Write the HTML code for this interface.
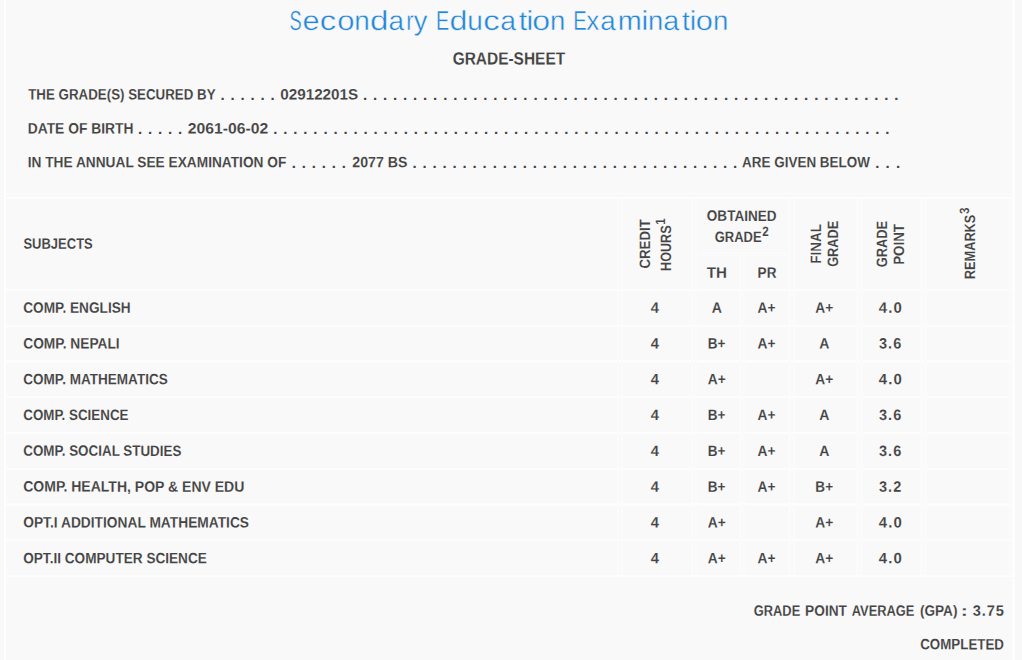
<!DOCTYPE html><html><head><meta charset="utf-8"><title>Grade Sheet</title><style>
html,body{margin:0;padding:0;}
body{width:1022px;height:660px;overflow:hidden;background:#f9f9f9;font-family:"Liberation Sans",sans-serif;color:#444;position:relative;}
.t{position:absolute;white-space:nowrap;transform-origin:0 0;}
.sup{font-size:0.9em;position:relative;top:-6.3px;margin-left:0.9px;}
.ln{position:absolute;background:#fff;}
.d{position:absolute;white-space:nowrap;font-weight:bold;}
</style></head><body>
<div class="ln" style="left:0.00px;top:0.00px;width:4.00px;height:660.00px;background:#f8f8f8"></div>
<div class="ln" style="left:1.30px;top:0.00px;width:1.00px;height:660.00px;background:#fbfbfb"></div>
<div class="ln" style="left:4.00px;top:0.00px;width:2.00px;height:660.00px;background:#fefefe"></div>
<div class="ln" style="left:1012.00px;top:0.00px;width:3.20px;height:660.00px;background:#fdfdfd"></div>
<div class="ln" style="left:1015.20px;top:0.00px;width:6.80px;height:660.00px;background:#f8f8f8"></div>
<div class="ln" style="left:6.00px;top:192.70px;width:1006.00px;height:1.60px;background:#fcfcfc"></div>
<div class="ln" style="left:6.00px;top:197.00px;width:1006.00px;height:2.00px;background:#fdfdfd"></div>
<div class="ln" style="left:6.00px;top:289.00px;width:1006.00px;height:2.20px;background:#fdfdfd"></div>
<div class="ln" style="left:6.00px;top:324.73px;width:1006.00px;height:2.20px;background:#fdfdfd"></div>
<div class="ln" style="left:6.00px;top:360.46px;width:1006.00px;height:2.20px;background:#fdfdfd"></div>
<div class="ln" style="left:6.00px;top:396.19px;width:1006.00px;height:2.20px;background:#fdfdfd"></div>
<div class="ln" style="left:6.00px;top:431.92px;width:1006.00px;height:2.20px;background:#fdfdfd"></div>
<div class="ln" style="left:6.00px;top:467.65px;width:1006.00px;height:2.20px;background:#fdfdfd"></div>
<div class="ln" style="left:6.00px;top:503.38px;width:1006.00px;height:2.20px;background:#fdfdfd"></div>
<div class="ln" style="left:6.00px;top:539.11px;width:1006.00px;height:2.20px;background:#fdfdfd"></div>
<div class="ln" style="left:6.00px;top:574.84px;width:1006.00px;height:2.20px;background:#fdfdfd"></div>
<div class="ln" style="left:6.00px;top:580.00px;width:1006.00px;height:1.20px;background:#fbfbfb"></div>
<div class="ln" style="left:616.60px;top:199.00px;width:2.40px;height:376.00px;background:#fbfbfb"></div>
<div class="ln" style="left:621.00px;top:199.00px;width:2.40px;height:376.00px;background:#fbfbfb"></div>
<div class="ln" style="left:690.50px;top:199.00px;width:2.40px;height:376.00px;background:#fbfbfb"></div>
<div class="ln" style="left:695.00px;top:199.00px;width:2.40px;height:376.00px;background:#fbfbfb"></div>
<div class="ln" style="left:788.20px;top:199.00px;width:2.40px;height:376.00px;background:#fbfbfb"></div>
<div class="ln" style="left:792.60px;top:199.00px;width:2.40px;height:376.00px;background:#fbfbfb"></div>
<div class="ln" style="left:856.20px;top:199.00px;width:2.40px;height:376.00px;background:#fbfbfb"></div>
<div class="ln" style="left:860.20px;top:199.00px;width:2.40px;height:376.00px;background:#fbfbfb"></div>
<div class="ln" style="left:920.20px;top:199.00px;width:2.40px;height:376.00px;background:#fbfbfb"></div>
<div class="ln" style="left:924.20px;top:199.00px;width:2.40px;height:376.00px;background:#fbfbfb"></div>
<div class="ln" style="left:739.40px;top:255.00px;width:2.20px;height:320.00px;background:#fbfbfb"></div>
<div class="ln" style="left:743.00px;top:255.00px;width:2.20px;height:320.00px;background:#fbfbfb"></div>
<div class="ln" style="left:697.40px;top:251.80px;width:90.80px;height:1.80px;background:#fbfbfb"></div>
<div class="ln" style="left:697.40px;top:254.60px;width:90.80px;height:1.80px;background:#fbfbfb"></div>
<div class="ln" style="left:1008.50px;top:199.00px;width:2.00px;height:376.00px;background:#fbfbfb"></div>

<div class="t" style="left:0;top:0;font-size:27.5px;line-height:33px;font-weight:normal;color:#2287d9;-webkit-text-stroke:0.4px #f9f9f9;transform:translate(289.42px,3.94px) scaleX(0.6613) rotate(0.03deg);">S</div>
<div class="t" style="left:0;top:0;font-size:27.5px;line-height:33px;font-weight:normal;color:#2287d9;-webkit-text-stroke:0.4px #f9f9f9;transform:translate(302.56px,3.94px) scaleX(1.1144) rotate(0.03deg);">e</div>
<div class="t" style="left:0;top:0;font-size:27.5px;line-height:33px;font-weight:normal;color:#2287d9;-webkit-text-stroke:0.4px #f9f9f9;transform:translate(319.65px,3.94px) scaleX(1.1920) rotate(0.03deg);">c</div>
<div class="t" style="left:0;top:0;font-size:27.5px;line-height:33px;font-weight:normal;color:#2287d9;-webkit-text-stroke:0.4px #f9f9f9;transform:translate(337.15px,3.94px) scaleX(1.1258) rotate(0.03deg);">o</div>
<div class="t" style="left:0;top:0;font-size:27.5px;line-height:33px;font-weight:normal;color:#2287d9;-webkit-text-stroke:0.4px #f9f9f9;transform:translate(354.30px,3.94px) scaleX(1.0105) rotate(0.03deg);">n</div>
<div class="t" style="left:0;top:0;font-size:27.5px;line-height:33px;font-weight:normal;color:#2287d9;-webkit-text-stroke:0.4px #f9f9f9;transform:translate(369.93px,3.94px) scaleX(1.2064) rotate(0.03deg);">d</div>
<div class="t" style="left:0;top:0;font-size:27.5px;line-height:33px;font-weight:normal;color:#2287d9;-webkit-text-stroke:0.4px #f9f9f9;transform:translate(388.58px,3.94px) scaleX(1.0164) rotate(0.03deg);">a</div>
<div class="t" style="left:0;top:0;font-size:27.5px;line-height:33px;font-weight:normal;color:#2287d9;-webkit-text-stroke:0.4px #f9f9f9;transform:translate(406.20px,3.95px) scaleX(0.8031) rotate(0.03deg);">r</div>
<div class="t" style="left:0;top:0;font-size:27.5px;line-height:33px;font-weight:normal;color:#2287d9;-webkit-text-stroke:0.4px #f9f9f9;transform:translate(413.75px,3.94px) scaleX(0.9895) rotate(0.03deg);">y</div>
<div class="t" style="left:0;top:0;font-size:27.5px;line-height:33px;font-weight:normal;color:#2287d9;-webkit-text-stroke:0.4px #f9f9f9;transform:translate(436.09px,3.94px) scaleX(0.7186) rotate(0.03deg);">E</div>
<div class="t" style="left:0;top:0;font-size:27.5px;line-height:33px;font-weight:normal;color:#2287d9;-webkit-text-stroke:0.4px #f9f9f9;transform:translate(449.48px,3.94px) scaleX(1.1731) rotate(0.03deg);">d</div>
<div class="t" style="left:0;top:0;font-size:27.5px;line-height:33px;font-weight:normal;color:#2287d9;-webkit-text-stroke:0.4px #f9f9f9;transform:translate(467.34px,3.94px) scaleX(1.0169) rotate(0.03deg);">u</div>
<div class="t" style="left:0;top:0;font-size:27.5px;line-height:33px;font-weight:normal;color:#2287d9;-webkit-text-stroke:0.4px #f9f9f9;transform:translate(483.15px,3.94px) scaleX(1.1920) rotate(0.03deg);">c</div>
<div class="t" style="left:0;top:0;font-size:27.5px;line-height:33px;font-weight:normal;color:#2287d9;-webkit-text-stroke:0.4px #f9f9f9;transform:translate(500.36px,3.94px) scaleX(1.0308) rotate(0.03deg);">a</div>
<div class="t" style="left:0;top:0;font-size:27.5px;line-height:33px;font-weight:normal;color:#2287d9;-webkit-text-stroke:0.4px #f9f9f9;transform:translate(518.78px,3.95px) scaleX(1.1017) rotate(0.03deg);">t</div>
<div class="t" style="left:0;top:0;font-size:27.5px;line-height:33px;font-weight:normal;color:#2287d9;-webkit-text-stroke:0.4px #f9f9f9;transform:translate(526.47px,3.95px) scaleX(1.1025) rotate(0.03deg);">i</div>
<div class="t" style="left:0;top:0;font-size:27.5px;line-height:33px;font-weight:normal;color:#2287d9;-webkit-text-stroke:0.4px #f9f9f9;transform:translate(532.29px,3.94px) scaleX(1.1649) rotate(0.03deg);">o</div>
<div class="t" style="left:0;top:0;font-size:27.5px;line-height:33px;font-weight:normal;color:#2287d9;-webkit-text-stroke:0.4px #f9f9f9;transform:translate(550.12px,3.94px) scaleX(1.0020) rotate(0.03deg);">n</div>
<div class="t" style="left:0;top:0;font-size:27.5px;line-height:33px;font-weight:normal;color:#2287d9;-webkit-text-stroke:0.4px #f9f9f9;transform:translate(573.36px,3.94px) scaleX(0.7322) rotate(0.03deg);">E</div>
<div class="t" style="left:0;top:0;font-size:27.5px;line-height:33px;font-weight:normal;color:#2287d9;-webkit-text-stroke:0.4px #f9f9f9;transform:translate(586.37px,3.94px) scaleX(0.9482) rotate(0.03deg);">x</div>
<div class="t" style="left:0;top:0;font-size:27.5px;line-height:33px;font-weight:normal;color:#2287d9;-webkit-text-stroke:0.4px #f9f9f9;transform:translate(600.19px,3.94px) scaleX(1.0092) rotate(0.03deg);">a</div>
<div class="t" style="left:0;top:0;font-size:27.5px;line-height:33px;font-weight:normal;color:#2287d9;-webkit-text-stroke:0.4px #f9f9f9;transform:translate(617.73px,3.94px) scaleX(1.0482) rotate(0.03deg);">m</div>
<div class="t" style="left:0;top:0;font-size:27.5px;line-height:33px;font-weight:normal;color:#2287d9;-webkit-text-stroke:0.4px #f9f9f9;transform:translate(641.47px,3.95px) scaleX(1.1025) rotate(0.03deg);">i</div>
<div class="t" style="left:0;top:0;font-size:27.5px;line-height:33px;font-weight:normal;color:#2287d9;-webkit-text-stroke:0.4px #f9f9f9;transform:translate(647.93px,3.94px) scaleX(0.9934) rotate(0.03deg);">n</div>
<div class="t" style="left:0;top:0;font-size:27.5px;line-height:33px;font-weight:normal;color:#2287d9;-webkit-text-stroke:0.4px #f9f9f9;transform:translate(663.14px,3.94px) scaleX(1.0452) rotate(0.03deg);">a</div>
<div class="t" style="left:0;top:0;font-size:27.5px;line-height:33px;font-weight:normal;color:#2287d9;-webkit-text-stroke:0.4px #f9f9f9;transform:translate(682.03px,3.95px) scaleX(1.0136) rotate(0.03deg);">t</div>
<div class="t" style="left:0;top:0;font-size:27.5px;line-height:33px;font-weight:normal;color:#2287d9;-webkit-text-stroke:0.4px #f9f9f9;transform:translate(689.74px,3.95px) scaleX(1.0632) rotate(0.03deg);">i</div>
<div class="t" style="left:0;top:0;font-size:27.5px;line-height:33px;font-weight:normal;color:#2287d9;-webkit-text-stroke:0.4px #f9f9f9;transform:translate(695.76px,3.94px) scaleX(1.1180) rotate(0.03deg);">o</div>
<div class="t" style="left:0;top:0;font-size:27.5px;line-height:33px;font-weight:normal;color:#2287d9;-webkit-text-stroke:0.4px #f9f9f9;transform:translate(712.92px,3.94px) scaleX(1.0020) rotate(0.03deg);">n</div>
<div class="t" style="left:0;top:0;font-size:17.6px;line-height:21px;font-weight:bold;color:#444;-webkit-text-stroke:0.1px #f9f9f9;transform:translate(452.66px,48.53px) scaleX(0.8785) rotate(0.03deg);">GRADE-SHEET</div>
<div class="t" style="left:0;top:0;font-size:15.0px;line-height:18px;font-weight:bold;color:#444;-webkit-text-stroke:0.1px #f9f9f9;transform:translate(28.23px,85.49px) scaleX(0.8883) rotate(0.03deg);">THE GRADE(S) SECURED BY</div>
<div class="t" style="left:0;top:0;font-size:15.0px;line-height:18px;font-weight:bold;color:#444;-webkit-text-stroke:0.1px #f9f9f9;transform:translate(280.18px,85.56px) scaleX(1.0177) rotate(0.03deg);">02912201S</div>
<div class="t" style="left:0;top:0;font-size:15.0px;line-height:18px;font-weight:bold;color:#444;-webkit-text-stroke:0.1px #f9f9f9;transform:translate(27.69px,119.44px) scaleX(0.9226) rotate(0.03deg);">DATE OF BIRTH</div>
<div class="t" style="left:0;top:0;font-size:15.0px;line-height:18px;font-weight:bold;color:#444;-webkit-text-stroke:0.1px #f9f9f9;transform:translate(187.67px,119.46px) scaleX(1.0492) rotate(0.03deg);">2061-06-02</div>
<div class="t" style="left:0;top:0;font-size:15.0px;line-height:18px;font-weight:bold;color:#444;-webkit-text-stroke:0.1px #f9f9f9;transform:translate(27.70px,153.15px) scaleX(0.9136) rotate(0.03deg);">IN THE ANNUAL SEE EXAMINATION OF</div>
<div class="t" style="left:0;top:0;font-size:15.0px;line-height:18px;font-weight:bold;color:#444;-webkit-text-stroke:0.1px #f9f9f9;transform:translate(352.32px,153.27px) scaleX(0.9438) rotate(0.03deg);">2077 BS</div>
<div class="t" style="left:0;top:0;font-size:15.0px;line-height:18px;font-weight:bold;color:#444;-webkit-text-stroke:0.1px #f9f9f9;transform:translate(742.09px,153.23px) scaleX(0.8972) rotate(0.03deg);">ARE GIVEN BELOW</div>
<div class="t" style="left:0;top:0;font-size:15.0px;line-height:18px;font-weight:bold;color:#444;-webkit-text-stroke:0.1px #f9f9f9;transform:translate(23.42px,234.66px) scaleX(0.8665) rotate(0.03deg);">SUBJECTS</div>
<div class="t" style="left:0;top:0;font-size:15.0px;line-height:18px;font-weight:bold;color:#444;-webkit-text-stroke:0.1px #f9f9f9;transform:translate(23.23px,298.64px) scaleX(0.9097) rotate(0.03deg);">COMP. ENGLISH</div>
<div class="t" style="left:0;top:0;font-size:15.0px;line-height:18px;font-weight:bold;color:#444;-webkit-text-stroke:0.1px #f9f9f9;transform:translate(650.66px,298.70px) scaleX(0.9804) rotate(0.03deg);">4</div>
<div class="t" style="left:0;top:0;font-size:15.0px;line-height:18px;font-weight:bold;color:#444;-webkit-text-stroke:0.1px #f9f9f9;transform:translate(711.67px,298.69px) scaleX(0.9365) rotate(0.03deg);">A</div>
<div class="t" style="left:0;top:0;font-size:15.0px;line-height:18px;font-weight:bold;color:#444;-webkit-text-stroke:0.1px #f9f9f9;transform:translate(757.48px,298.69px) scaleX(0.9166) rotate(0.03deg);">A+</div>
<div class="t" style="left:0;top:0;font-size:15.0px;line-height:18px;font-weight:bold;color:#444;-webkit-text-stroke:0.1px #f9f9f9;transform:translate(815.38px,298.69px) scaleX(0.9166) rotate(0.03deg);">A+</div>
<div class="t" style="left:0;top:0;font-size:15.0px;line-height:18px;font-weight:bold;color:#444;-webkit-text-stroke:0.1px #f9f9f9;letter-spacing:1.1px;transform:translate(878.80px,298.69px) scaleX(0.9948) rotate(0.03deg);">4.0</div>
<div class="t" style="left:0;top:0;font-size:15.0px;line-height:18px;font-weight:bold;color:#444;-webkit-text-stroke:0.1px #f9f9f9;transform:translate(23.23px,334.44px) scaleX(0.9160) rotate(0.03deg);">COMP. NEPALI</div>
<div class="t" style="left:0;top:0;font-size:15.0px;line-height:18px;font-weight:bold;color:#444;-webkit-text-stroke:0.1px #f9f9f9;transform:translate(650.66px,334.50px) scaleX(0.9804) rotate(0.03deg);">4</div>
<div class="t" style="left:0;top:0;font-size:15.0px;line-height:18px;font-weight:bold;color:#444;-webkit-text-stroke:0.1px #f9f9f9;transform:translate(707.76px,334.49px) scaleX(0.9046) rotate(0.03deg);">B+</div>
<div class="t" style="left:0;top:0;font-size:15.0px;line-height:18px;font-weight:bold;color:#444;-webkit-text-stroke:0.1px #f9f9f9;transform:translate(757.48px,334.49px) scaleX(0.9166) rotate(0.03deg);">A+</div>
<div class="t" style="left:0;top:0;font-size:15.0px;line-height:18px;font-weight:bold;color:#444;-webkit-text-stroke:0.1px #f9f9f9;transform:translate(819.27px,334.49px) scaleX(0.9365) rotate(0.03deg);">A</div>
<div class="t" style="left:0;top:0;font-size:15.0px;line-height:18px;font-weight:bold;color:#444;-webkit-text-stroke:0.1px #f9f9f9;letter-spacing:1.1px;transform:translate(879.01px,334.49px) scaleX(0.9651) rotate(0.03deg);">3.6</div>
<div class="t" style="left:0;top:0;font-size:15.0px;line-height:18px;font-weight:bold;color:#444;-webkit-text-stroke:0.1px #f9f9f9;transform:translate(23.24px,370.22px) scaleX(0.9032) rotate(0.03deg);">COMP. MATHEMATICS</div>
<div class="t" style="left:0;top:0;font-size:15.0px;line-height:18px;font-weight:bold;color:#444;-webkit-text-stroke:0.1px #f9f9f9;transform:translate(650.66px,370.30px) scaleX(0.9804) rotate(0.03deg);">4</div>
<div class="t" style="left:0;top:0;font-size:15.0px;line-height:18px;font-weight:bold;color:#444;-webkit-text-stroke:0.1px #f9f9f9;transform:translate(707.78px,370.29px) scaleX(0.9166) rotate(0.03deg);">A+</div>
<div class="t" style="left:0;top:0;font-size:15.0px;line-height:18px;font-weight:bold;color:#444;-webkit-text-stroke:0.1px #f9f9f9;transform:translate(815.38px,370.29px) scaleX(0.9166) rotate(0.03deg);">A+</div>
<div class="t" style="left:0;top:0;font-size:15.0px;line-height:18px;font-weight:bold;color:#444;-webkit-text-stroke:0.1px #f9f9f9;letter-spacing:1.1px;transform:translate(878.80px,370.29px) scaleX(0.9948) rotate(0.03deg);">4.0</div>
<div class="t" style="left:0;top:0;font-size:15.0px;line-height:18px;font-weight:bold;color:#444;-webkit-text-stroke:0.1px #f9f9f9;transform:translate(23.24px,406.04px) scaleX(0.8913) rotate(0.03deg);">COMP. SCIENCE</div>
<div class="t" style="left:0;top:0;font-size:15.0px;line-height:18px;font-weight:bold;color:#444;-webkit-text-stroke:0.1px #f9f9f9;transform:translate(650.66px,406.10px) scaleX(0.9804) rotate(0.03deg);">4</div>
<div class="t" style="left:0;top:0;font-size:15.0px;line-height:18px;font-weight:bold;color:#444;-webkit-text-stroke:0.1px #f9f9f9;transform:translate(707.76px,406.09px) scaleX(0.9046) rotate(0.03deg);">B+</div>
<div class="t" style="left:0;top:0;font-size:15.0px;line-height:18px;font-weight:bold;color:#444;-webkit-text-stroke:0.1px #f9f9f9;transform:translate(757.48px,406.09px) scaleX(0.9166) rotate(0.03deg);">A+</div>
<div class="t" style="left:0;top:0;font-size:15.0px;line-height:18px;font-weight:bold;color:#444;-webkit-text-stroke:0.1px #f9f9f9;transform:translate(819.27px,406.09px) scaleX(0.9365) rotate(0.03deg);">A</div>
<div class="t" style="left:0;top:0;font-size:15.0px;line-height:18px;font-weight:bold;color:#444;-webkit-text-stroke:0.1px #f9f9f9;letter-spacing:1.1px;transform:translate(879.01px,406.09px) scaleX(0.9651) rotate(0.03deg);">3.6</div>
<div class="t" style="left:0;top:0;font-size:15.0px;line-height:18px;font-weight:bold;color:#444;-webkit-text-stroke:0.1px #f9f9f9;transform:translate(23.24px,441.81px) scaleX(0.8938) rotate(0.03deg);">COMP. SOCIAL STUDIES</div>
<div class="t" style="left:0;top:0;font-size:15.0px;line-height:18px;font-weight:bold;color:#444;-webkit-text-stroke:0.1px #f9f9f9;transform:translate(650.66px,441.90px) scaleX(0.9804) rotate(0.03deg);">4</div>
<div class="t" style="left:0;top:0;font-size:15.0px;line-height:18px;font-weight:bold;color:#444;-webkit-text-stroke:0.1px #f9f9f9;transform:translate(707.76px,441.89px) scaleX(0.9046) rotate(0.03deg);">B+</div>
<div class="t" style="left:0;top:0;font-size:15.0px;line-height:18px;font-weight:bold;color:#444;-webkit-text-stroke:0.1px #f9f9f9;transform:translate(757.48px,441.89px) scaleX(0.9166) rotate(0.03deg);">A+</div>
<div class="t" style="left:0;top:0;font-size:15.0px;line-height:18px;font-weight:bold;color:#444;-webkit-text-stroke:0.1px #f9f9f9;transform:translate(819.27px,441.89px) scaleX(0.9365) rotate(0.03deg);">A</div>
<div class="t" style="left:0;top:0;font-size:15.0px;line-height:18px;font-weight:bold;color:#444;-webkit-text-stroke:0.1px #f9f9f9;letter-spacing:1.1px;transform:translate(879.01px,441.89px) scaleX(0.9651) rotate(0.03deg);">3.6</div>
<div class="t" style="left:0;top:0;font-size:15.0px;line-height:18px;font-weight:bold;color:#444;-webkit-text-stroke:0.1px #f9f9f9;transform:translate(23.22px,477.58px) scaleX(0.9342) rotate(0.03deg);">COMP. HEALTH, POP &amp; ENV EDU</div>
<div class="t" style="left:0;top:0;font-size:15.0px;line-height:18px;font-weight:bold;color:#444;-webkit-text-stroke:0.1px #f9f9f9;transform:translate(650.66px,477.70px) scaleX(0.9804) rotate(0.03deg);">4</div>
<div class="t" style="left:0;top:0;font-size:15.0px;line-height:18px;font-weight:bold;color:#444;-webkit-text-stroke:0.1px #f9f9f9;transform:translate(707.76px,477.69px) scaleX(0.9046) rotate(0.03deg);">B+</div>
<div class="t" style="left:0;top:0;font-size:15.0px;line-height:18px;font-weight:bold;color:#444;-webkit-text-stroke:0.1px #f9f9f9;transform:translate(757.48px,477.69px) scaleX(0.9166) rotate(0.03deg);">A+</div>
<div class="t" style="left:0;top:0;font-size:15.0px;line-height:18px;font-weight:bold;color:#444;-webkit-text-stroke:0.1px #f9f9f9;transform:translate(815.36px,477.69px) scaleX(0.9046) rotate(0.03deg);">B+</div>
<div class="t" style="left:0;top:0;font-size:15.0px;line-height:18px;font-weight:bold;color:#444;-webkit-text-stroke:0.1px #f9f9f9;letter-spacing:1.1px;transform:translate(879.01px,477.69px) scaleX(0.9659) rotate(0.03deg);">3.2</div>
<div class="t" style="left:0;top:0;font-size:15.0px;line-height:18px;font-weight:bold;color:#444;-webkit-text-stroke:0.1px #f9f9f9;transform:translate(23.23px,513.37px) scaleX(0.9176) rotate(0.03deg);">OPT.I ADDITIONAL MATHEMATICS</div>
<div class="t" style="left:0;top:0;font-size:15.0px;line-height:18px;font-weight:bold;color:#444;-webkit-text-stroke:0.1px #f9f9f9;transform:translate(650.66px,513.50px) scaleX(0.9804) rotate(0.03deg);">4</div>
<div class="t" style="left:0;top:0;font-size:15.0px;line-height:18px;font-weight:bold;color:#444;-webkit-text-stroke:0.1px #f9f9f9;transform:translate(707.78px,513.49px) scaleX(0.9166) rotate(0.03deg);">A+</div>
<div class="t" style="left:0;top:0;font-size:15.0px;line-height:18px;font-weight:bold;color:#444;-webkit-text-stroke:0.1px #f9f9f9;transform:translate(815.38px,513.49px) scaleX(0.9166) rotate(0.03deg);">A+</div>
<div class="t" style="left:0;top:0;font-size:15.0px;line-height:18px;font-weight:bold;color:#444;-webkit-text-stroke:0.1px #f9f9f9;letter-spacing:1.1px;transform:translate(878.80px,513.49px) scaleX(0.9948) rotate(0.03deg);">4.0</div>
<div class="t" style="left:0;top:0;font-size:15.0px;line-height:18px;font-weight:bold;color:#444;-webkit-text-stroke:0.1px #f9f9f9;transform:translate(23.23px,549.19px) scaleX(0.9066) rotate(0.03deg);">OPT.II COMPUTER SCIENCE</div>
<div class="t" style="left:0;top:0;font-size:15.0px;line-height:18px;font-weight:bold;color:#444;-webkit-text-stroke:0.1px #f9f9f9;transform:translate(650.66px,549.30px) scaleX(0.9804) rotate(0.03deg);">4</div>
<div class="t" style="left:0;top:0;font-size:15.0px;line-height:18px;font-weight:bold;color:#444;-webkit-text-stroke:0.1px #f9f9f9;transform:translate(707.78px,549.29px) scaleX(0.9166) rotate(0.03deg);">A+</div>
<div class="t" style="left:0;top:0;font-size:15.0px;line-height:18px;font-weight:bold;color:#444;-webkit-text-stroke:0.1px #f9f9f9;transform:translate(757.48px,549.29px) scaleX(0.9166) rotate(0.03deg);">A+</div>
<div class="t" style="left:0;top:0;font-size:15.0px;line-height:18px;font-weight:bold;color:#444;-webkit-text-stroke:0.1px #f9f9f9;transform:translate(815.38px,549.29px) scaleX(0.9166) rotate(0.03deg);">A+</div>
<div class="t" style="left:0;top:0;font-size:15.0px;line-height:18px;font-weight:bold;color:#444;-webkit-text-stroke:0.1px #f9f9f9;letter-spacing:1.1px;transform:translate(878.80px,549.29px) scaleX(0.9948) rotate(0.03deg);">4.0</div>
<div class="t" style="left:0;top:0;font-size:15.0px;line-height:18px;font-weight:bold;color:#444;-webkit-text-stroke:0.1px #f9f9f9;transform:translate(753.76px,601.67px) scaleX(0.8578) rotate(0.03deg);">GRADE</div>
<div class="t" style="left:0;top:0;font-size:15.0px;line-height:18px;font-weight:bold;color:#444;-webkit-text-stroke:0.1px #f9f9f9;transform:translate(805.10px,601.68px) scaleX(0.9135) rotate(0.03deg);">POINT</div>
<div class="t" style="left:0;top:0;font-size:15.0px;line-height:18px;font-weight:bold;color:#444;-webkit-text-stroke:0.1px #f9f9f9;transform:translate(851.71px,601.66px) scaleX(0.8588) rotate(0.03deg);">AVERAGE</div>
<div class="t" style="left:0;top:0;font-size:15.0px;line-height:18px;font-weight:bold;color:#444;-webkit-text-stroke:0.1px #f9f9f9;transform:translate(919.92px,601.68px) scaleX(0.9061) rotate(0.03deg);">(GPA)</div>
<div class="t" style="left:0;top:0;font-size:15.0px;line-height:18px;font-weight:bold;color:#444;-webkit-text-stroke:0.1px #f9f9f9;transform:translate(960.79px,601.70px) scaleX(1.4147) rotate(0.03deg);">:</div>
<div class="t" style="left:0;top:0;font-size:15.0px;line-height:18px;font-weight:bold;color:#444;-webkit-text-stroke:0.1px #f9f9f9;letter-spacing:0.9px;transform:translate(972.75px,601.68px) scaleX(0.9755) rotate(0.03deg);">3.75</div>
<div class="t" style="left:0;top:0;font-size:15.0px;line-height:18px;font-weight:bold;color:#444;-webkit-text-stroke:0.1px #f9f9f9;transform:translate(920.24px,635.35px) scaleX(0.8889) rotate(0.03deg);">COMPLETED</div>
<div class="t" style="left:0;top:0;font-size:15.0px;line-height:18px;font-weight:bold;color:#444;-webkit-text-stroke:0.1px #f9f9f9;transform:translate(706.84px,206.86px) scaleX(0.9020) rotate(0.03deg);">OBTAINED</div>
<div class="t" style="left:0;top:0;font-size:15.0px;line-height:18px;font-weight:bold;color:#444;-webkit-text-stroke:0.1px #f9f9f9;transform:translate(714.66px,228.07px) scaleX(0.8659) rotate(0.03deg);">GRADE<span class="sup">2</span></div>
<div class="t" style="left:0;top:0;font-size:15.0px;line-height:18px;font-weight:bold;color:#444;-webkit-text-stroke:0.1px #f9f9f9;transform:translate(706.71px,263.69px) scaleX(1.0068) rotate(0.03deg);">TH</div>
<div class="t" style="left:0;top:0;font-size:15.0px;line-height:18px;font-weight:bold;color:#444;-webkit-text-stroke:0.1px #f9f9f9;transform:translate(757.61px,263.69px) scaleX(0.9032) rotate(0.03deg);">PR</div>
<div class="t" style="left:0;top:0;font-size:15.0px;line-height:18px;font-weight:bold;color:#444;-webkit-text-stroke:0.1px #f9f9f9;transform:translate(635.77px,268.55px) rotate(-90.03deg) scaleX(0.8816);">CREDIT</div>
<div class="t" style="left:0;top:0;font-size:15.0px;line-height:18px;font-weight:bold;color:#444;-webkit-text-stroke:0.1px #f9f9f9;transform:translate(656.97px,270.94px) rotate(-90.03deg) scaleX(0.8405);">HOURS<span class="sup">1</span></div>
<div class="t" style="left:0;top:0;font-size:15.0px;line-height:18px;font-weight:bold;color:#444;-webkit-text-stroke:0.1px #f9f9f9;transform:translate(806.98px,263.69px) rotate(-90.03deg) scaleX(0.8967);">FINAL</div>
<div class="t" style="left:0;top:0;font-size:15.0px;line-height:18px;font-weight:bold;color:#444;-webkit-text-stroke:0.1px #f9f9f9;transform:translate(824.17px,266.83px) rotate(-90.03deg) scaleX(0.8503);">GRADE</div>
<div class="t" style="left:0;top:0;font-size:15.0px;line-height:18px;font-weight:bold;color:#444;-webkit-text-stroke:0.1px #f9f9f9;transform:translate(873.37px,267.23px) rotate(-90.03deg) scaleX(0.8560);">GRADE</div>
<div class="t" style="left:0;top:0;font-size:15.0px;line-height:18px;font-weight:bold;color:#444;-webkit-text-stroke:0.1px #f9f9f9;transform:translate(890.08px,264.88px) rotate(-90.03deg) scaleX(0.8913);">POINT</div>
<div class="t" style="left:0;top:0;font-size:15.0px;line-height:18px;font-weight:bold;color:#444;-webkit-text-stroke:0.1px #f9f9f9;transform:translate(961.06px,279.15px) rotate(-90.03deg) scaleX(0.8501);">REMARKS<span class="sup">3</span></div>
<div class="d" style="left:0;top:0;transform-origin:0 0;transform:translate(220.61px,85.75px) rotate(0.01deg);font-size:15.0px;line-height:18px;word-spacing:1.660px;">. . . . . .</div>
<div class="d" style="left:0;top:0;transform-origin:0 0;transform:translate(362.92px,85.75px) rotate(0.01deg);font-size:15.0px;line-height:18px;word-spacing:1.692px;">. . . . . . . . . . . . . . . . . . . . . . . . . . . . . . . . . . . . . . . . . . . . . . . . . . . . . .</div>
<div class="d" style="left:0;top:0;transform-origin:0 0;transform:translate(137.91px,119.75px) rotate(0.01deg);font-size:15.0px;line-height:18px;word-spacing:1.710px;">. . . . .</div>
<div class="d" style="left:0;top:0;transform-origin:0 0;transform:translate(273.22px,119.75px) rotate(0.01deg);font-size:15.0px;line-height:18px;word-spacing:1.700px;">. . . . . . . . . . . . . . . . . . . . . . . . . . . . . . . . . . . . . . . . . . . . . . . . . . . . . . . . . . . . . .</div>
<div class="d" style="left:0;top:0;transform-origin:0 0;transform:translate(291.72px,153.95px) rotate(0.01deg);font-size:15.0px;line-height:18px;word-spacing:1.680px;">. . . . . .</div>
<div class="d" style="left:0;top:0;transform-origin:0 0;transform:translate(412.52px,153.95px) rotate(0.01deg);font-size:15.0px;line-height:18px;word-spacing:1.680px;">. . . . . . . . . . . . . . . . . . . . . . . . . . . . . . . . .</div>
<div class="d" style="left:0;top:0;transform-origin:0 0;transform:translate(875.31px,153.95px) rotate(0.01deg);font-size:15.0px;line-height:18px;word-spacing:1.960px;">. . .</div>
</body></html>
